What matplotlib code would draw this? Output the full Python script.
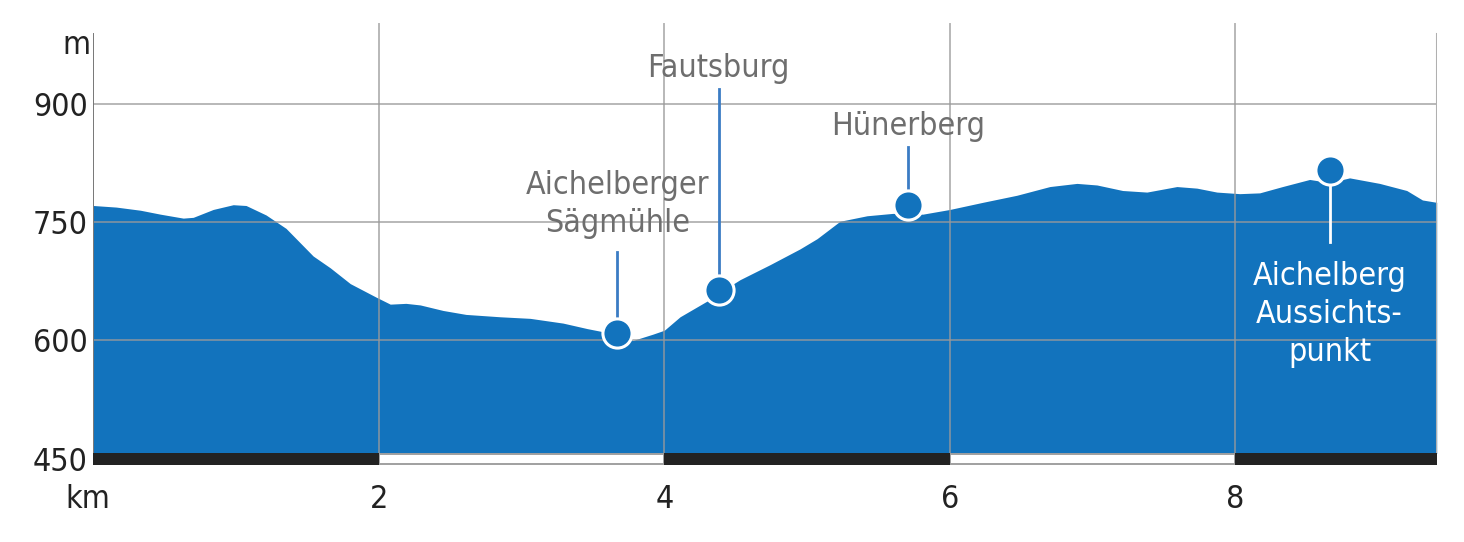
import matplotlib
matplotlib.use('Agg')
import matplotlib.pyplot as plt

plt.rcParams['font.family'] = ['DejaVu Sans']
plt.rcParams['font.stretch'] = 'condensed'

# elevation profile
dist_km = [0.00, 0.16, 0.33, 0.47, 0.63, 0.70, 0.84, 0.98, 1.07, 1.21, 1.35, 1.54,
           1.66, 1.80, 1.98, 2.08, 2.19, 2.29, 2.45, 2.61, 2.85, 3.06, 3.29, 3.46,
           3.60, 3.78, 3.92, 4.00, 4.11, 4.30, 4.38, 4.53, 4.74, 4.95, 5.07, 5.23,
           5.42, 5.60, 5.81, 6.00, 6.23, 6.47, 6.70, 6.89, 7.03, 7.21, 7.38, 7.59,
           7.73, 7.87, 8.03, 8.17, 8.33, 8.52, 8.66, 8.80, 9.01, 9.20, 9.31, 9.41]
elev_m = [771, 769, 765, 760, 755, 756, 766, 772, 771, 759, 742, 707,
          692, 672, 655, 646, 647, 645, 638, 633, 630, 628, 622, 615,
          610, 600, 608, 613, 630, 650, 660, 677, 696, 716, 729, 751,
          758, 761, 760, 766, 775, 784, 795, 799, 797, 790, 788, 795,
          793, 788, 786, 787, 795, 804, 800, 806, 799, 790, 778, 775]

poi_names = ['Aichelberger\nSägmühle', 'Fautsburg', 'Hünerberg', 'Aichelberg\nAussichts-\npunkt']
poi_km = [3.67, 4.38, 5.71, 8.66]
poi_elev = [609, 664, 772, 816]
stem_end = [712, 918, 845, 725]
label_y = [772, 944, 871, 633]

y_ticks = [450, 600, 750, 900]
x_ticks = [2, 4, 6, 8]
x_end = 9.41

BLUE = '#1273bd'
GRID = '#9a9a9a'
BAR_TOP, BAR_BOT = 456.8, 442.2

fig = plt.figure(figsize=(14.64, 5.42), dpi=100)
ax = fig.add_axes([93.3 / 1464, 77 / 542, (1436.7 - 93.3) / 1464, (465 - 23.5) / 542])
ax.set_xlim(0, x_end)
ax.set_ylim(BAR_BOT, 1001.6)
for s in ax.spines.values():
    s.set_visible(False)

ax.fill_between(dist_km, BAR_TOP, elev_m, color=BLUE, lw=0, zorder=1)

# grid over the fill
for y in y_ticks[1:]:
    ax.plot([0, x_end], [y, y], color=GRID, lw=1.4, alpha=0.7, zorder=2)
for x in x_ticks:
    ax.plot([x, x], [BAR_TOP, 1001.6], color=GRID, lw=1.4, alpha=0.7, zorder=2, clip_on=False)
ax.plot([0, 0], [BAR_TOP, 988], color='#777777', lw=1.4, zorder=3)
ax.plot([x_end, x_end], [BAR_TOP, 988], color='#b0b0b0', lw=2.2, zorder=3)

# km scale bar
ax.broken_barh([(2, 2), (6, 2)], (BAR_BOT + 1, BAR_TOP - BAR_BOT - 2),
               facecolors='white', edgecolors='#a0a0a0', lw=1.4, zorder=3)
ax.broken_barh([(0, 2), (4, 2), (8, x_end - 8)], (BAR_BOT, BAR_TOP - BAR_BOT),
               facecolors='#222222', lw=0, zorder=4)

# points of interest
for i, (name, x, y, se, ly) in enumerate(zip(poi_names, poi_km, poi_elev, stem_end, label_y)):
    last = i == len(poi_names) - 1
    ax.plot([x, x], [y, se], color='white' if last else '#3b7cc4', lw=2, zorder=5)
    ax.plot(x, y, 'o', ms=21, mfc=BLUE, mec='white', mew=2.2, zorder=6)
    ax.text(x, ly, name, ha='center', va='center', fontsize=23,
            color='white' if last else '#6e6e6e', linespacing=1.3, zorder=6)

ax.set_yticks(y_ticks)
ax.set_yticklabels([str(v) for v in y_ticks])
ax.set_xticks(x_ticks)
ax.set_xticklabels([str(v) for v in x_ticks])
ax.tick_params(length=0, labelsize=23, colors='#222222')
ax.tick_params(axis='y', pad=4)
ax.tick_params(axis='x', pad=14)

ax.text(-0.12, 974, 'm', ha='center', va='center', fontsize=23, color='#222222', clip_on=False)
ax.text(-0.04, 398, 'km', ha='center', va='center', fontsize=23, color='#222222', clip_on=False)

fig.savefig('out.png', dpi=100, facecolor='white')
